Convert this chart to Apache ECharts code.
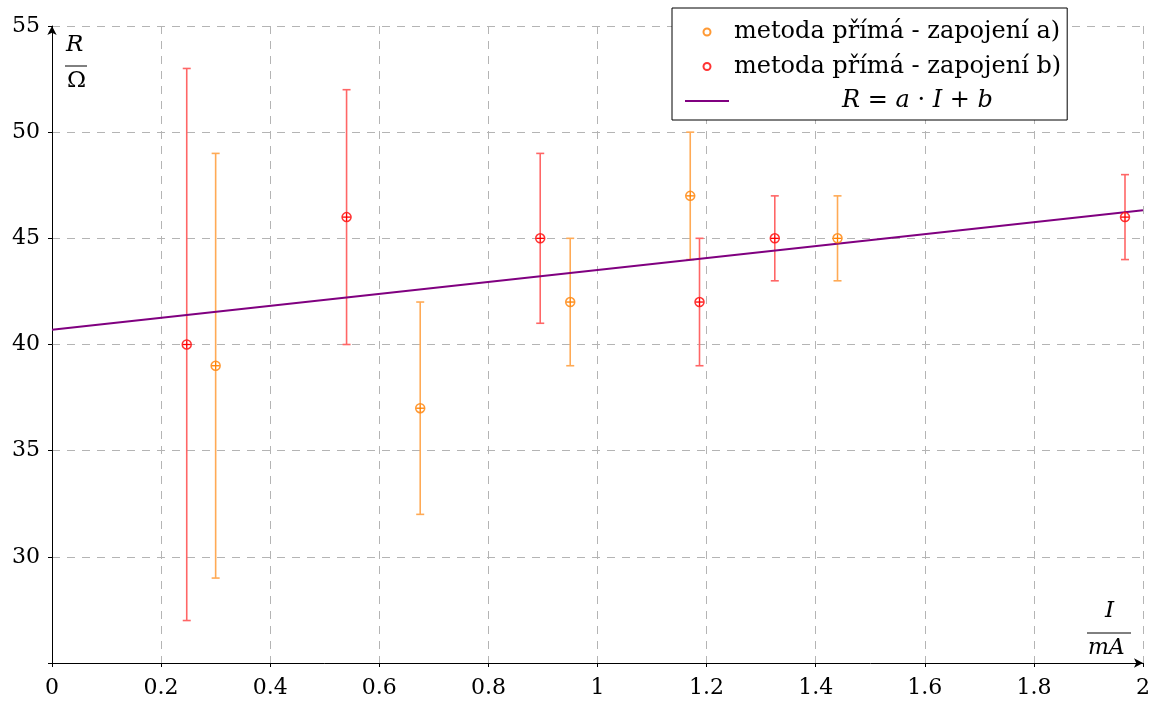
<!DOCTYPE html>
<html>
<head>
<meta charset="utf-8">
<script src="https://cdn.jsdelivr.net/npm/echarts@6/dist/echarts.min.js"></script>
<style>
  html, body { margin: 0; padding: 0; background: #fff; }
  #chart { width: 1153px; height: 702px; }
</style>
</head>
<body>
<div id="chart"></div>
<script type="application/javascript">
// metoda přímá - zapojení a)
var xA = [0.30, 0.675, 0.95, 1.17, 1.44];
var rA = [39, 37, 42, 47, 45];
var loA = [29, 32, 39, 44, 43];
var hiA = [49, 42, 45, 50, 47];

// metoda přímá - zapojení b)
var xB = [0.247, 0.54, 0.895, 1.187, 1.325, 1.967];
var rB = [40, 46, 45, 42, 45, 46];
var loB = [27, 40, 41, 39, 43, 44];
var hiB = [53, 52, 49, 45, 47, 48];

// fit R = a*I + b, end points
var fitX = [0, 2];
var fitR = [40.69, 46.32];

var nameA = 'metoda přímá - zapojení a)';
var nameB = 'metoda přímá - zapojení b)';
var nameFit = 'R = a · I + b';

var serif = '"DejaVu Serif", "Liberation Serif", serif';
var orange = '#ff8000', orangeBar = '#ffaa55';
var red = '#ff0000', redBar = '#ff6666';

function pts(xs, ys) {
    var out = [];
    for (var i = 0; i < xs.length; i++) out.push([xs[i], ys[i]]);
    return out;
}
function bars(xs, lo, hi) {
    var out = [];
    for (var i = 0; i < xs.length; i++) out.push([xs[i], lo[i], hi[i]]);
    return out;
}

// vertical error bar with caps
function errRender(color) {
    return function (params, api) {
        var x = api.value(0);
        var p1 = api.coord([x, api.value(1)]);
        var p2 = api.coord([x, api.value(2)]);
        var st = { stroke: color, lineWidth: 1.6 };
        return {
            type: 'group',
            children: [
                { type: 'line', shape: { x1: p1[0], y1: p1[1], x2: p2[0], y2: p2[1] }, style: st },
                { type: 'line', shape: { x1: p1[0] - 4, y1: p1[1], x2: p1[0] + 4, y2: p1[1] }, style: st },
                { type: 'line', shape: { x1: p2[0] - 4, y1: p2[1], x2: p2[0] + 4, y2: p2[1] }, style: st }
            ]
        };
    };
}

// cross inside the marker circle
function markRender(color) {
    return function (params, api) {
        var p = api.coord([api.value(0), api.value(1)]);
        var st = { stroke: color, lineWidth: 1.3 };
        return {
            type: 'group',
            children: [
                { type: 'line', shape: { x1: p[0] - 4, y1: p[1], x2: p[0] + 4, y2: p[1] }, style: st },
                { type: 'line', shape: { x1: p[0], y1: p[1] - 4, x2: p[0], y2: p[1] + 4 }, style: st }
            ]
        };
    };
}

var chart = echarts.init(document.getElementById('chart'));

var option = {
    backgroundColor: '#fff',
    animation: false,
    grid: { left: 52, right: 10, top: 26, bottom: 39 },
    legend: {
        orient: 'vertical',
        left: 672, top: 8,
        padding: [12, 6, 7, 12],
        itemGap: 10.5,
        itemWidth: 44,
        itemHeight: 7,
        backgroundColor: '#fff',
        borderColor: '#000',
        borderWidth: 1,
        borderRadius: 0,
        selectedMode: false,
        textStyle: { fontFamily: serif, fontSize: 24, color: '#000', lineHeight: 24,
            rich: {
                t: { fontFamily: serif, fontSize: 24, lineHeight: 24 },
                s: { width: 108 },
                i: { fontFamily: serif, fontSize: 24, fontStyle: 'italic', lineHeight: 24 }
            }
        },
        formatter: function (n) {
            if (n === nameFit) return '{s|}{i|R} = {i|a} · {i|I} + {i|b}';
            return '{t|' + n + '}';
        },
        data: [nameA, nameB, { name: nameFit, itemStyle: { opacity: 0 } }]
    },
    xAxis: {
        type: 'value', min: 0, max: 2, interval: 0.2,
        axisLine: { show: true, lineStyle: { color: '#000', width: 1 },
            symbol: ['none', 'arrow'], symbolSize: [7, 9] },
        axisTick: { show: true, length: 4, lineStyle: { color: '#000' } },
        axisLabel: { fontFamily: serif, fontSize: 22, color: '#000', margin: 14 },
        splitLine: { show: true, lineStyle: { color: '#b4b4b4', type: [8, 7], width: 1 } }
    },
    yAxis: {
        type: 'value', min: 25, max: 55, interval: 5,
        axisLine: { show: true, lineStyle: { color: '#000', width: 1 },
            symbol: ['none', 'arrow'], symbolSize: [7, 9] },
        axisTick: { show: true, length: 4, lineStyle: { color: '#000' } },
        axisLabel: { fontFamily: serif, fontSize: 22, color: '#000', margin: 12,
            formatter: function (v) { return v === 25 ? '' : v; } },
        splitLine: { show: true, lineStyle: { color: '#b4b4b4', type: [8, 7], width: 1 } }
    },
    series: [
        {
            name: 'errA', type: 'custom', renderItem: errRender(orangeBar),
            encode: { x: 0, y: [1, 2] }, data: bars(xA, loA, hiA), z: 3
        },
        {
            name: 'errB', type: 'custom', renderItem: errRender(redBar),
            encode: { x: 0, y: [1, 2] }, data: bars(xB, loB, hiB), z: 3
        },
        {
            name: nameFit, type: 'line', data: pts(fitX, fitR),
            symbol: 'none', lineStyle: { color: '#800080', width: 2 },
            itemStyle: { color: '#800080' }, z: 4
        },
        {
            name: nameA, type: 'scatter', data: pts(xA, rA),
            symbol: 'circle', symbolSize: 9,
            itemStyle: { color: '#fff', borderColor: orange, borderWidth: 1.5 }, z: 5
        },
        {
            name: nameB, type: 'scatter', data: pts(xB, rB),
            symbol: 'circle', symbolSize: 9,
            itemStyle: { color: '#fff', borderColor: red, borderWidth: 1.5 }, z: 5
        },
        {
            name: 'markA', type: 'custom', renderItem: markRender(orange),
            data: pts(xA, rA), z: 6
        },
        {
            name: 'markB', type: 'custom', renderItem: markRender(red),
            data: pts(xB, rB), z: 6
        }
    ],
    graphic: [
        { type: 'text', left: 66, top: 34, style: { text: 'R', fontFamily: serif, fontSize: 23, fontStyle: 'italic', fill: '#000' } },
        { type: 'line', shape: { x1: 65, y1: 66, x2: 87, y2: 66 }, style: { stroke: '#000', lineWidth: 1 } },
        { type: 'text', left: 67, top: 70, style: { text: 'Ω', fontFamily: serif, fontSize: 23, fill: '#000' } },
        { type: 'text', left: 1105, top: 600, style: { text: 'I', fontFamily: serif, fontSize: 23, fontStyle: 'italic', fill: '#000' } },
        { type: 'line', shape: { x1: 1087, y1: 633, x2: 1131, y2: 633 }, style: { stroke: '#000', lineWidth: 1 } },
        { type: 'text', left: 1088, top: 637, style: { text: 'mA', fontFamily: serif, fontSize: 22, fontStyle: 'italic', fill: '#000' } }
    ]
};

chart.setOption(option);
</script>
</body>
</html>
